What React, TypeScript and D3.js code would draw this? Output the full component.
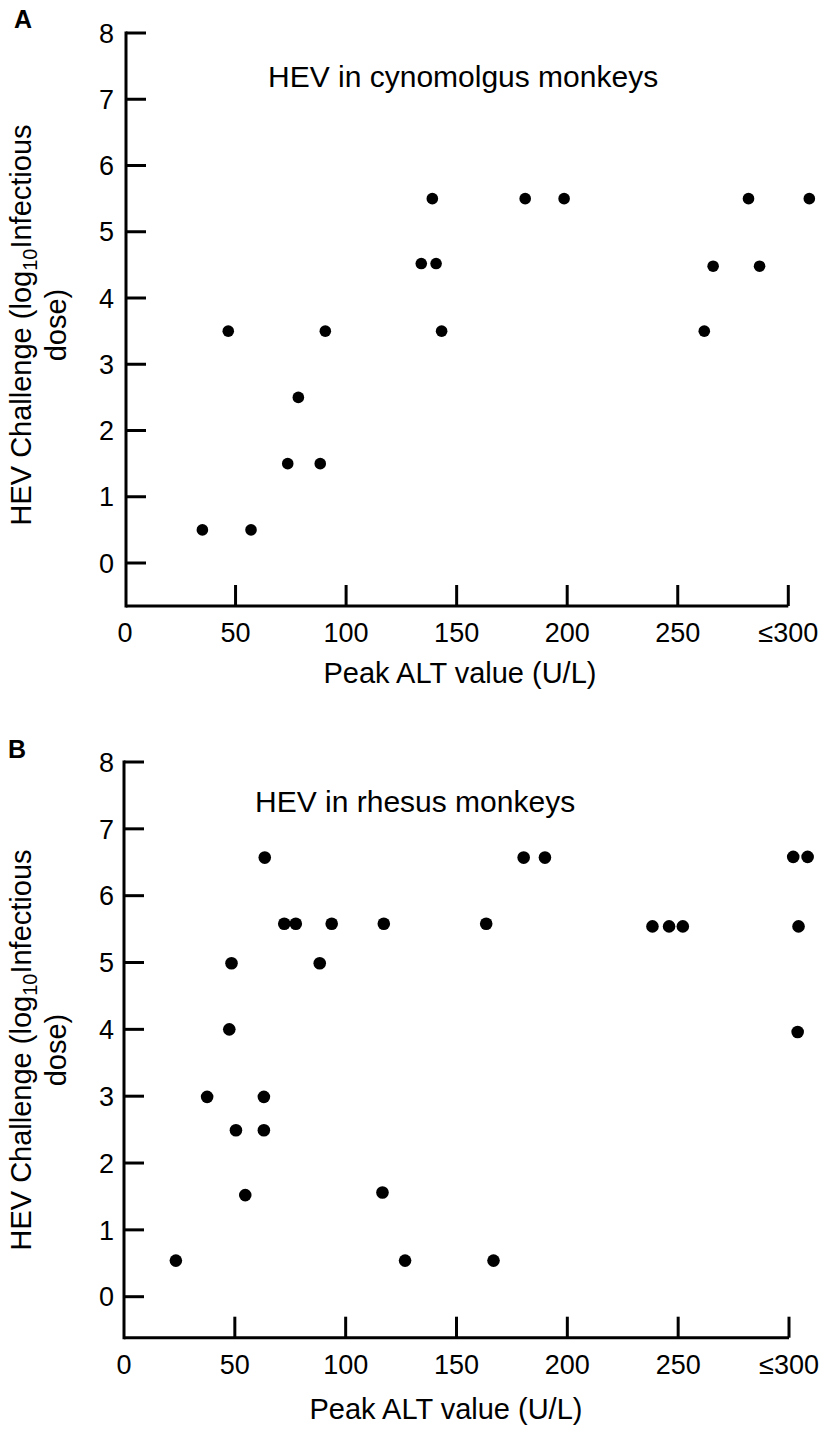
import React from 'react';
import * as d3 from 'd3';

// Panel A: HEV in cynomolgus monkeys
const cynoALT = [35, 57, 73.6, 88.3, 78.4, 46.7, 90.6, 143.2, 262, 134, 140.7, 266, 287, 139, 181, 198.6, 282, 309.5];
const cynoDose = [0.5, 0.5, 1.5, 1.5, 2.5, 3.5, 3.5, 3.5, 3.5, 4.52, 4.52, 4.48, 4.48, 5.5, 5.5, 5.5, 5.5, 5.5];

// Panel B: HEV in rhesus monkeys
const rhesusALT = [63.5, 72.3, 77.5, 93.7, 117.2, 163.4, 48.5, 88.3, 47.5, 37.5, 63.1, 50.5, 63.1, 54.7, 116.6, 23.4, 126.8, 166.7, 180.3, 189.9, 301.9, 308.4, 238.4, 245.9, 252.1, 304.3, 303.9];
const rhesusDose = [6.57, 5.58, 5.58, 5.58, 5.58, 5.58, 4.99, 4.99, 4.0, 2.99, 2.99, 2.49, 2.49, 1.52, 1.56, 0.54, 0.54, 0.54, 6.57, 6.57, 6.58, 6.58, 5.54, 5.54, 5.54, 5.54, 3.96];

const xTickValues = [0, 50, 100, 150, 200, 250, 300];
const xTickLabels = ['0', '50', '100', '150', '200', '250', '≤300'];
const yTickValues = [0, 1, 2, 3, 4, 5, 6, 7, 8];

const FONT = '"Liberation Sans", Arial, Helvetica, sans-serif';

type PanelProps = {
  letter: string;
  letterPos: [number, number];
  title: string;
  titlePos: [number, number];
  xs: number[];
  ys: number[];
  xRange: [number, number];
  yRange: [number, number];
  axisY: number;
  axisX: number;
  xTitleCenter: number;
  xTitleBaseline: number;
  yTitleCenter: number;
  r: number;
};

function Panel(p: PanelProps) {
  const x = d3.scaleLinear().domain([0, 300]).range(p.xRange);
  const y = d3.scaleLinear().domain([0, 8]).range(p.yRange);
  const top = y(8);
  const tickLen = 20;
  return (
    <g fontFamily={FONT} fill="#000">
      <text x={p.letterPos[0]} y={p.letterPos[1]} fontSize={25} fontWeight="bold">{p.letter}</text>
      <text x={p.titlePos[0]} y={p.titlePos[1]} fontSize={30}>{p.title}</text>
      {/* axes */}
      <line x1={p.axisX} x2={p.axisX} y1={top - 1.5} y2={p.axisY + 1.5} stroke="#000" strokeWidth={3} />
      <line x1={p.axisX} x2={x(300)} y1={p.axisY} y2={p.axisY} stroke="#000" strokeWidth={3} />
      {yTickValues.map((v) => (
        <g key={'y' + v}>
          <line x1={p.axisX} x2={p.axisX + tickLen} y1={y(v)} y2={y(v)} stroke="#000" strokeWidth={3} />
          <text x={114} y={y(v)} dy="0.36em" fontSize={27} textAnchor="end">{v}</text>
        </g>
      ))}
      {xTickValues.map((v, i) => (
        <g key={'x' + v}>
          {v > 0 && (
            <line x1={x(v)} x2={x(v)} y1={p.axisY} y2={p.axisY - 21} stroke="#000" strokeWidth={3} />
          )}
          <text x={x(v)} y={p.axisY + 36} fontSize={27} textAnchor="middle">{xTickLabels[i]}</text>
        </g>
      ))}
      <text x={p.xTitleCenter} y={p.xTitleBaseline} fontSize={29} textAnchor="middle">Peak ALT value (U/L)</text>
      <text transform={`translate(31,${p.yTitleCenter}) rotate(-90)`} fontSize={29} textAnchor="middle">
        HEV Challenge (log<tspan fontSize={20} dy={6}>10</tspan><tspan dy={-6}>Infectious</tspan>
      </text>
      <text transform={`translate(66,${p.yTitleCenter}) rotate(-90)`} fontSize={29} textAnchor="middle">dose)</text>
      {p.xs.map((v, i) => (
        <circle key={'c' + i} cx={x(v)} cy={y(p.ys[i])} r={p.r} fill="#000" />
      ))}
    </g>
  );
}

export default function App() {
  return (
    <svg width={825} height={1429} style={{ position: 'absolute', left: 0, top: 0, background: '#fff' }}>
      <rect x={0} y={0} width={825} height={1429} fill="#fff" />
      <Panel
        letter="A"
        letterPos={[14, 28]}
        title="HEV in cynomolgus monkeys"
        titlePos={[268, 87]}
        xs={cynoALT}
        ys={cynoDose}
        xRange={[125, 788.3]}
        yRange={[563, 33]}
        axisY={606}
        axisX={126}
        xTitleCenter={460}
        xTitleBaseline={683}
        yTitleCenter={325}
        r={5.8}
      />
      <Panel
        letter="B"
        letterPos={[8, 758]}
        title="HEV in rhesus monkeys"
        titlePos={[255, 812]}
        xs={rhesusALT}
        ys={rhesusDose}
        xRange={[124, 789]}
        yRange={[1296.7, 762]}
        axisY={1337.7}
        axisX={124}
        xTitleCenter={446}
        xTitleBaseline={1419}
        yTitleCenter={1050}
        r={6.3}
      />
    </svg>
  );
}
